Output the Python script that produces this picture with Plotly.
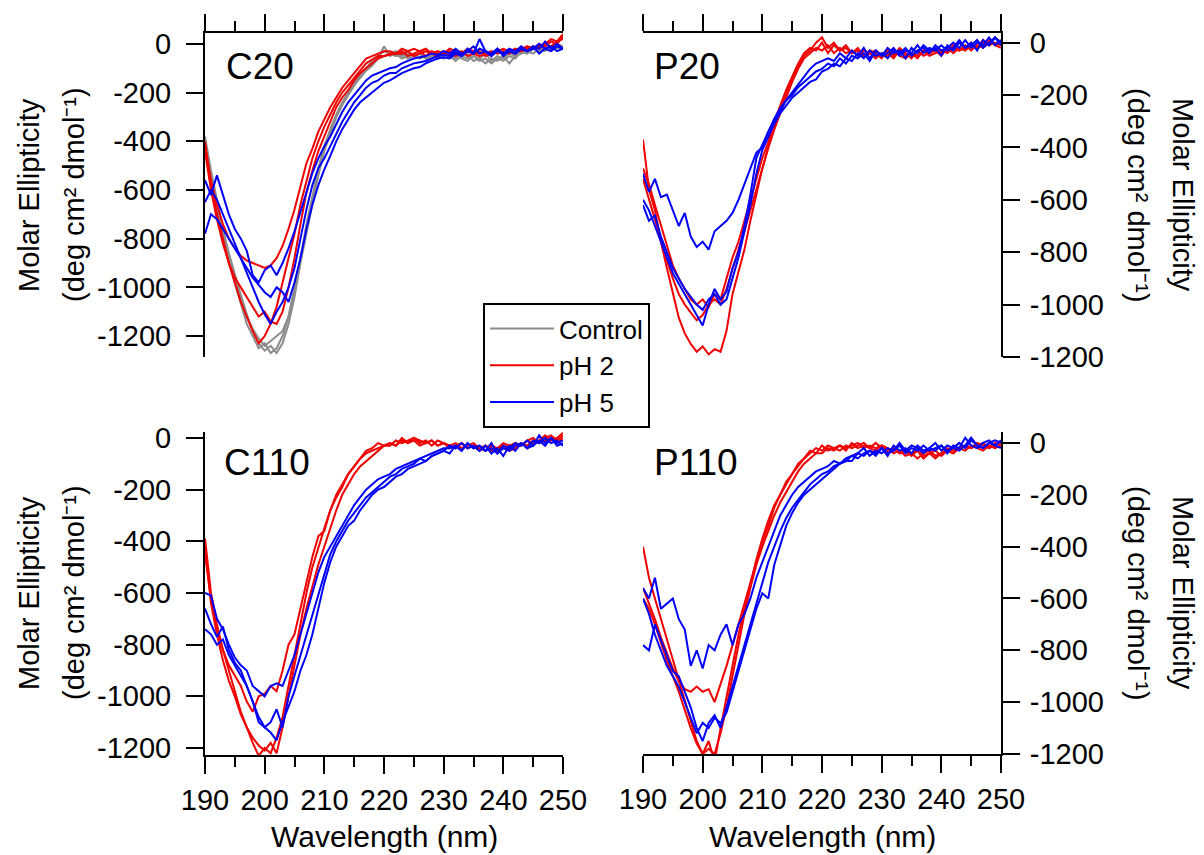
import plotly.graph_objects as go

# ---------------- data ----------------
wavelength = list(range(190, 251))

c20_control = [
    [-380,-520,-640,-760,-860,-950,-1030,-1110,-1180,-1230,
     -1260,-1240,-1270,-1230,-1150,-1040,-900,-780,-660,-540,
     -440,-370,-300,-250,-210,-170,-140,-110,-90,-60,
     -10,-50,-40,-60,-50,-40,-60,-50,-40,-60,
     -50,-40,-60,-50,-40,-70,-60,-80,-60,-70,
     -50,-80,-50,-40,-30,-40,-20,-30,-10,-20,-10],
    [-420,-560,-680,-800,-900,-980,-1060,-1150,-1200,-1250,
     -1230,-1270,-1250,-1200,-1120,-1000,-880,-740,-620,-510,
     -420,-350,-290,-240,-200,-160,-130,-100,-80,-60,
     -50,-40,-50,-40,-60,-50,-40,-60,-50,-40,
     -60,-50,-70,-50,-60,-50,-70,-60,-80,-60,
     -70,-50,-60,-30,-40,-20,-30,-20,-30,-10,-20],
    [-400,-540,-650,-770,-870,-960,-1040,-1120,-1170,-1210,
     -1240,-1220,-1200,-1180,-1120,-1010,-880,-760,-640,-530,
     -430,-360,-300,-250,-210,-170,-130,-100,-70,-50,
     -30,-40,-30,-50,-40,-50,-40,-60,-50,-40,
     -60,-50,-40,-60,-70,-50,-60,-40,-70,-50,
     -60,-40,-50,-30,-40,-20,-30,-10,-20,0,-10],
]
c20_ph2 = [
    [-420,-560,-660,-740,-800,-840,-870,-890,-900,-910,
     -920,-910,-880,-830,-760,-680,-580,-490,-430,-360,
     -310,-260,-220,-180,-150,-120,-90,-60,-50,-40,
     -30,-30,-40,-20,-30,-20,-30,-20,-40,-30,
     -40,-20,-30,-40,-20,-30,-40,-30,-40,-30,
     -20,-30,-40,-20,-10,-20,0,-10,10,0,30],
    [-400,-580,-700,-800,-900,-980,-1060,-1120,-1180,-1230,
     -1200,-1150,-1080,-980,-880,-780,-660,-560,-470,-400,
     -340,-290,-240,-200,-170,-140,-110,-80,-65,-50,
     -50,-40,-40,-30,-50,-40,-30,-50,-30,-40,
     -30,-50,-40,-30,-50,-40,-30,-50,-40,-30,
     -40,-30,-20,-30,-10,-20,-10,0,-10,10,20],
    [-440,-600,-720,-820,-900,-960,-1000,-1040,-1080,-1120,
     -1100,-1140,-1150,-1100,-1000,-880,-740,-610,-520,-440,
     -380,-320,-260,-220,-190,-150,-120,-100,-80,-60,
     -50,-45,-40,-40,-30,-50,-40,-30,-40,-50,
     -40,-30,-50,-40,-30,-40,-50,-40,-30,-40,
     -30,-40,-20,-30,-20,-10,-20,0,20,10,40],
]
c20_ph5 = [
    [-560,-620,-540,-620,-700,-760,-800,-850,-950,-980,
     -930,-910,-950,-900,-840,-770,-690,-600,-530,-470,
     -420,-380,-330,-280,-240,-210,-180,-150,-130,-120,
     -110,-100,-95,-80,-70,-60,-55,-50,-40,-45,
     -30,-40,-20,-40,-30,-10,-40,-30,-50,-20,
     -40,-30,-40,-20,-30,-10,-40,-20,-30,-10,-20],
    [-650,-600,-640,-700,-760,-820,-880,-940,-1000,-1060,
     -1110,-1150,-1100,-1060,-1000,-920,-800,-680,-580,-510,
     -470,-420,-370,-320,-280,-240,-210,-180,-160,-150,
     -130,-120,-120,-100,-90,-80,-75,-70,-60,-50,
     -45,-50,-30,-50,-20,-40,20,-30,-40,-20,
     -50,-30,-40,-20,-30,-10,-20,10,-20,0,-20],
    [-780,-700,-720,-760,-800,-840,-880,-920,-960,-990,
     -1020,-1040,-1000,-1020,-1060,-980,-880,-760,-660,-580,
     -515,-460,-400,-350,-310,-270,-240,-220,-200,-180,
     -160,-150,-135,-120,-110,-100,-95,-80,-70,-60,
     -55,-60,-40,-50,-30,-40,-20,-30,-50,-30,
     -40,-20,-30,-10,-30,-20,0,-20,-10,-30,-20],
]

p20_ph2 = [
    [-370,-560,-640,-760,-860,-960,-1050,-1110,-1150,-1180,
     -1160,-1190,-1170,-1180,-1100,-960,-870,-790,-680,-580,
     -480,-400,-330,-260,-190,-140,-90,-50,-30,0,
     20,-20,0,-30,-10,-40,-20,-50,-30,-40,
     -60,-30,-50,-20,-40,-60,-30,-50,-40,-30,
     -50,-20,-40,-20,-30,-10,-20,0,-10,20,0],
    [-480,-540,-620,-700,-780,-850,-900,-940,-980,-1000,
     -980,-1010,-960,-980,-900,-820,-760,-680,-600,-520,
     -440,-380,-300,-240,-180,-130,-80,-40,-20,-30,
     0,-40,-10,-30,-20,-40,-30,-50,-40,-30,
     -50,-40,-60,-30,-50,-40,-60,-30,-50,-40,
     -30,-40,-20,-30,-10,-30,-10,-20,10,-10,-20],
    [-520,-600,-680,-760,-830,-900,-960,-1000,-1030,-1060,
     -1040,-1000,-980,-1000,-940,-860,-790,-720,-640,-560,
     -470,-400,-330,-270,-210,-150,-100,-60,-40,-20,
     -30,-10,-40,-20,-40,-30,-50,-30,-40,-60,
     -40,-50,-30,-50,-60,-40,-50,-30,-40,-20,
     -40,-30,-10,-30,-20,0,-20,10,-10,0,-10],
]
p20_ph5 = [
    [-500,-570,-520,-590,-580,-640,-700,-650,-740,-780,
     -760,-790,-720,-700,-680,-650,-600,-540,-480,-420,
     -400,-340,-300,-260,-220,-190,-160,-130,-100,-80,
     -70,-60,-70,-40,-60,-30,-50,-20,-60,-30,
     -50,-20,-40,-30,-60,-20,-40,-10,-30,-20,
     -50,-10,-30,0,-20,-10,10,-20,0,20,-10],
    [-600,-640,-700,-760,-820,-880,-920,-960,-1000,-1040,
     -1080,-1000,-940,-980,-950,-860,-800,-700,-580,-440,
     -390,-340,-290,-250,-220,-200,-170,-150,-130,-110,
     -100,-80,-90,-60,-80,-50,-60,-40,-70,-30,
     -50,-40,-20,-50,-30,-40,-10,-40,-20,-30,
     -10,-30,-20,10,-20,0,-30,10,-10,20,0],
    [-620,-680,-660,-740,-800,-860,-900,-940,-970,-1000,
     -1020,-980,-960,-1000,-980,-900,-820,-720,-620,-500,
     -410,-360,-310,-270,-240,-210,-190,-170,-150,-140,
     -110,-100,-80,-90,-60,-70,-40,-60,-30,-50,
     -40,-60,-30,-40,-20,-50,-30,-20,-40,-10,
     -30,-20,0,-20,10,-20,0,-10,20,-10,10],
]

c110_ph2 = [
    [-390,-600,-720,-820,-900,-980,-1060,-1120,-1180,-1230,
     -1200,-1220,-1160,-1080,-960,-840,-720,-600,-500,-420,
     -350,-280,-220,-180,-140,-110,-80,-60,-50,-40,
     -30,-20,-30,-10,-20,0,-20,-10,-30,-10,
     -20,-30,-20,-40,-30,-20,-40,-30,-50,-40,
     -30,-50,-40,-20,-30,-10,-20,-10,0,-20,0],
    [-420,-640,-760,-860,-940,-1000,-1070,-1120,-1160,-1190,
     -1210,-1180,-1220,-1120,-1000,-880,-760,-660,-570,-490,
     -420,-350,-280,-220,-180,-140,-110,-90,-70,-50,
     -30,-30,-10,-20,-10,0,-10,-20,-10,-30,
     -20,-30,-40,-20,-40,-30,-50,-30,-40,-50,
     -30,-40,-20,-30,-10,-20,-10,10,-10,0,20],
    [-450,-620,-740,-820,-880,-920,-960,-1020,-1060,-1000,
     -990,-960,-980,-900,-800,-760,-660,-560,-460,-380,
     -360,-280,-230,-190,-140,-110,-80,-50,-40,-20,
     -30,-20,-30,0,-20,-10,-30,-20,-10,-30,
     -20,-40,-30,-20,-40,-30,-40,-50,-30,-40,
     -20,-30,-20,-30,-10,0,-20,0,10,-10,10],
]
c110_ph5 = [
    [-600,-610,-700,-740,-800,-850,-880,-900,-960,-980,
     -1000,-960,-950,-960,-900,-840,-760,-680,-600,-520,
     -460,-420,-380,-340,-300,-260,-230,-200,-180,-160,
     -150,-140,-120,-110,-100,-90,-80,-70,-60,-50,
     -40,-40,-30,-50,-20,-40,-30,-50,-40,-60,
     -40,-50,-30,-20,-40,-10,-20,0,-20,-10,-30],
    [-660,-720,-770,-730,-820,-870,-900,-960,-1020,-1100,
     -1120,-1100,-1050,-1120,-1000,-920,-840,-760,-680,-600,
     -520,-450,-400,-360,-320,-290,-260,-230,-210,-190,
     -170,-150,-140,-120,-110,-100,-80,-90,-70,-60,
     -50,-30,-40,-20,-40,-30,-50,-30,-60,-40,
     -70,-30,-50,-20,-40,-30,-10,-30,0,-20,-10],
    [-740,-760,-800,-780,-840,-880,-920,-960,-1020,-1080,
     -1120,-1140,-1170,-1100,-1040,-980,-900,-840,-760,-660,
     -560,-480,-420,-380,-340,-320,-280,-250,-220,-200,
     -190,-170,-150,-140,-120,-110,-100,-90,-70,-60,
     -50,-60,-30,-50,-20,-40,-30,-50,-20,-60,
     -30,-40,-20,-30,-10,-30,10,-20,0,-30,-20],
]

p110_ph2 = [
    [-400,-520,-600,-680,-760,-840,-920,-1000,-1080,-1150,
     -1200,-1180,-1200,-1120,-1020,-900,-780,-660,-560,-470,
     -400,-340,-280,-230,-190,-150,-110,-80,-60,-40,
     -40,-20,-30,-10,-20,-10,0,-20,-10,-20,
     -10,-30,-20,-40,-30,-50,-30,-60,-40,-30,
     -50,-30,-40,-20,-30,-10,-20,-30,-10,-20,-10],
    [-560,-620,-680,-750,-810,-870,-920,-950,-960,-940,
     -960,-950,-1000,-930,-860,-780,-700,-620,-540,-460,
     -380,-320,-250,-200,-160,-120,-90,-60,-40,-20,
     -30,-10,-20,-10,-30,0,-20,-10,-20,0,
     -20,-30,-20,-40,-30,-40,-60,-40,-30,-50,
     -40,-20,-30,-20,-10,-20,0,-10,-20,0,-10],
    [-600,-640,-700,-770,-840,-900,-960,-1030,-1100,-1160,
     -1200,-1150,-1230,-1100,-980,-860,-740,-640,-540,-450,
     -370,-300,-240,-200,-150,-120,-80,-60,-30,-40,
     -10,-30,-20,-30,-10,-20,-10,0,-20,-30,
     -10,-20,-40,-30,-50,-40,-30,-50,-40,-60,
     -40,-30,-40,-20,-10,-20,-10,0,-20,-10,0],
]
p110_ph5 = [
    [-560,-600,-520,-640,-620,-600,-680,-720,-860,-800,
     -870,-780,-800,-740,-700,-780,-700,-660,-600,-520,
     -460,-400,-340,-280,-240,-200,-170,-150,-130,-110,
     -100,-90,-70,-80,-60,-50,-40,-20,-50,-30,
     -40,-20,-30,0,-30,-10,-20,-40,-20,-30,
     -10,-30,-20,0,-20,10,-10,-20,0,10,0],
    [-780,-800,-700,-760,-820,-880,-900,-960,-1020,-1100,
     -1150,-1080,-1050,-1100,-1020,-940,-860,-780,-700,-620,
     -530,-460,-400,-340,-290,-250,-220,-190,-160,-140,
     -120,-110,-90,-80,-70,-70,-40,-50,-30,-40,
     -20,-50,-10,-30,-20,-40,-10,-30,-20,0,
     -30,-10,-20,-30,-10,20,-10,-20,0,-10,-20],
    [-600,-660,-740,-800,-860,-900,-940,-1000,-1060,-1120,
     -1080,-1100,-1060,-1080,-1040,-960,-880,-800,-720,-640,
     -580,-600,-470,-390,-320,-270,-230,-200,-180,-160,
     -140,-120,-100,-80,-70,-50,-60,-40,-30,-50,
     -20,-40,-30,-10,-40,-20,-30,-10,-30,-20,
     -10,-40,-10,-20,20,-10,-20,0,10,-10,10],
]

series_names = ["Control", "pH 2", "pH 5"]
series_colors = ["rgb(140,140,140)", "rgb(240,0,0)", "rgb(0,0,250)"]
panel_labels = ["C20", "P20", "C110", "P110"]
x_ticks = [190, 200, 210, 220, 230, 240, 250]
y_ticks = [0, -200, -400, -600, -800, -1000, -1200]
y_ticktext = [str(v) for v in y_ticks]
y_title_lines = ["Molar Ellipticity", "(deg cm\u00b2 dmol\u207b\u00b9)"]
x_title = "Wavelength (nm)"

panels = [
    {"data": [c20_control, c20_ph2, c20_ph5], "xa": "x", "ya": "y"},
    {"data": [None, p20_ph2, p20_ph5], "xa": "x2", "ya": "y2"},
    {"data": [None, c110_ph2, c110_ph5], "xa": "x3", "ya": "y3"},
    {"data": [None, p110_ph2, p110_ph5], "xa": "x4", "ya": "y4"},
]

# ---------------- figure ----------------
W, H = 1204, 855
FONT = "Liberation Sans, Arial, sans-serif"
TICK_FS = 29
fig = go.Figure()

shown = set()
for p in panels:
    for si, group in enumerate(p["data"]):
        if group is None:
            continue
        for curve in group:
            fig.add_trace(go.Scatter(
                x=wavelength, y=curve, mode="lines",
                line=dict(color=series_colors[si], width=2),
                name=series_names[si], legendgroup=series_names[si],
                showlegend=series_names[si] not in shown,
                xaxis=p["xa"], yaxis=p["ya"],
            ))
            shown.add(series_names[si])


def px_x(v):
    return v / W


def px_y(v):
    return 1 - v / H


common_x = dict(range=[190, 250], showgrid=False, zeroline=False, showline=True,
                automargin=False, linecolor="black", linewidth=2, ticks="outside",
                ticklen=17, tickwidth=2, tickcolor="black", tickvals=x_ticks,
                ticklabelstandoff=1,
                minor=dict(ticks="outside", ticklen=10, tickwidth=2, tickcolor="black",
                           tick0=195, dtick=10, showgrid=False),
                tickfont=dict(size=TICK_FS, color="black", family=FONT))
common_y = dict(showgrid=False, zeroline=False, showline=True, automargin=False,
                linecolor="black", linewidth=2, ticks="outside", ticklen=17,
                tickwidth=2, tickcolor="black", tickvals=y_ticks, ticktext=y_ticktext,
                tickfont=dict(size=TICK_FS, color="black", family=FONT))

left_dom = [px_x(205), px_x(563)]
right_dom = [px_x(643), px_x(1001)]
top_dom = [px_y(357), px_y(32.7)]

fig.update_layout(
    template="none",
    width=W, height=H,
    margin=dict(l=0, r=0, t=0, b=0, pad=0),
    paper_bgcolor="white", plot_bgcolor="white",
    font=dict(family=FONT, color="black", size=TICK_FS),
    xaxis=dict(common_x, domain=left_dom, anchor="y", side="top", showticklabels=False),
    yaxis=dict(common_y, domain=top_dom, anchor="x", side="left", range=[-1286, 46],
               ticklabelstandoff=9),
    xaxis2=dict(common_x, domain=right_dom, anchor="y2", side="top", showticklabels=False),
    yaxis2=dict(common_y, domain=top_dom, anchor="x2", side="right", range=[-1200, 38],
                ticklabelstandoff=4),
    xaxis3=dict(common_x, domain=left_dom, anchor="y3", side="bottom"),
    yaxis3=dict(common_y, domain=[px_y(755), px_y(432)], anchor="x3", side="left",
                range=[-1227, 23], ticklabelstandoff=9),
    xaxis4=dict(common_x, domain=right_dom, anchor="y4", side="bottom"),
    yaxis4=dict(common_y, domain=[px_y(754), px_y(432)], anchor="x4", side="right",
                range=[-1200, 42], ticklabelstandoff=4),
    legend=dict(x=px_x(483), y=px_y(303), xanchor="left", yanchor="top",
                bgcolor="white", bordercolor="black", borderwidth=2, itemwidth=64,
                font=dict(size=26, family=FONT, color="black"), tracegroupgap=0),
    showlegend=True,
)

annotations = []
label_pos = [(224, 67), (652, 67), (222, 462), (652, 462)]
for lab, (lx, ly) in zip(panel_labels, label_pos):
    annotations.append(dict(text=lab, x=px_x(lx), y=px_y(ly), xref="paper", yref="paper",
                            xanchor="left", yanchor="middle", showarrow=False,
                            font=dict(size=37, family=FONT, color="black")))
# y-axis titles: one annotation per line
for cy in (195, 593):
    for line_text, lx_left, lx_right in zip(y_title_lines, (29, 74), (1183, 1138)):
        annotations.append(dict(text=line_text, x=px_x(lx_left), y=px_y(cy), xref="paper",
                                yref="paper", xanchor="center", yanchor="middle",
                                textangle=-90, showarrow=False,
                                font=dict(size=29, family=FONT, color="black")))
        annotations.append(dict(text=line_text, x=px_x(lx_right), y=px_y(cy), xref="paper",
                                yref="paper", xanchor="center", yanchor="middle",
                                textangle=90, showarrow=False,
                                font=dict(size=29, family=FONT, color="black")))
for cx in (384, 822):
    annotations.append(dict(text=x_title, x=px_x(cx), y=0, xref="paper",
                            yref="paper", xanchor="center", yanchor="bottom",
                            showarrow=False,
                            font=dict(size=30, family=FONT, color="black")))
fig.update_layout(annotations=annotations)

fig.write_html(
    "out.html",
    config={"displayModeBar": False},
    post_script="document.body.style.margin='0';document.body.style.overflow='hidden';",
)
